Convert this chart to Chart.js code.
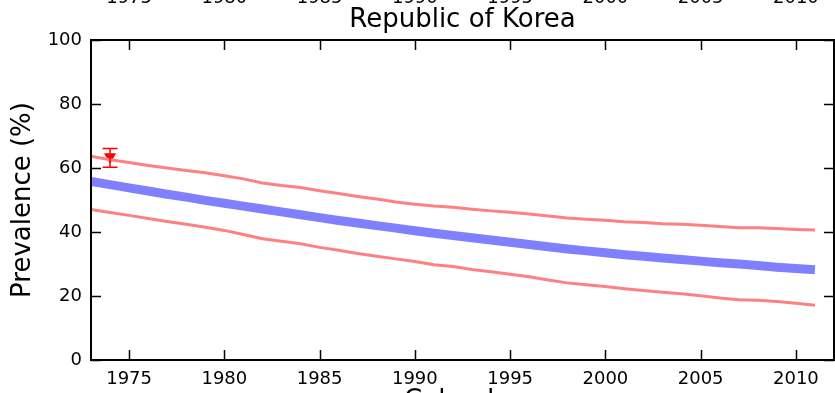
<!DOCTYPE html>
<html>
<head>
<meta charset="utf-8">
<script src="https://cdn.jsdelivr.net/npm/chart.js@4.4.1/dist/chart.umd.min.js"></script>
<style>
    html, body { margin: 0; padding: 0; background: #fff; }
    #wrap { width: 835px; height: 393px; position: relative; }
</style>
</head>
<body>
<div id="wrap"><canvas id="prevalence_chart" width="835" height="393"></canvas></div>
<script>

// years modelled, 1973 - 2011
const years = [
    1973, 1974, 1975, 1976, 1977, 1978, 1979, 1980, 1981, 1982,
    1983, 1984, 1985, 1986, 1987, 1988, 1989, 1990, 1991, 1992,
    1993, 1994, 1995, 1996, 1997, 1998, 1999, 2000, 2001, 2002,
    2003, 2004, 2005, 2006, 2007, 2008, 2009, 2010, 2011
];

// fitted prevalence (%)
const prevalence_fit = [
    55.8, 54.8, 53.8, 52.8, 51.8, 50.9, 49.9, 49.0, 48.1, 47.2,
    46.3, 45.4, 44.5, 43.6, 42.8, 42.0, 41.2, 40.4, 39.6, 38.9,
    38.2, 37.5, 36.8, 36.1, 35.4, 34.7, 34.1, 33.5, 32.9, 32.4,
    31.9, 31.4, 30.9, 30.4, 30.0, 29.5, 29.0, 28.6, 28.2
];

// upper and lower uncertainty bounds (%)
const prevalence_upper = [
    63.7, 62.6, 61.7, 60.8, 60.0, 59.2, 58.5, 57.6, 56.6, 55.3,
    54.5, 53.9, 52.9, 52.0, 51.1, 50.3, 49.4, 48.7, 48.1, 47.7,
    47.1, 46.6, 46.2, 45.6, 45.0, 44.4, 44.0, 43.7, 43.2, 43.0,
    42.6, 42.4, 42.1, 41.7, 41.3, 41.3, 41.1, 40.8, 40.6
];

const prevalence_lower = [
    47.0, 46.1, 45.2, 44.2, 43.3, 42.4, 41.5, 40.5, 39.2, 37.9,
    37.1, 36.3, 35.2, 34.3, 33.3, 32.4, 31.6, 30.8, 29.8, 29.2,
    28.3, 27.6, 26.8, 26.0, 25.0, 24.1, 23.5, 23.0, 22.3, 21.7,
    21.2, 20.7, 20.1, 19.4, 18.8, 18.7, 18.3, 17.7, 17.1
];

// survey observation with its interval
const survey_years = [1974];
const survey_values = [63.5];
const survey_low = [60.2];
const survey_high = [66.1];

const x_ticks = [1975, 1980, 1985, 1990, 1995, 2000, 2005, 2010];
const y_ticks = [0, 20, 40, 60, 80, 100];

const font_family = "'DejaVu Sans', sans-serif";


function toPoints(xs, ys){
    return xs.map((x, i) => ({ x: x, y: ys[i] }));
}


// error bars for the survey point
const errorBarPlugin = {
    id: 'errorBars',
    afterDatasetsDraw(chart){
        const ctx = chart.ctx;
        const xs = chart.scales.x;
        const ys = chart.scales.y;

        ctx.save();
        ctx.strokeStyle = '#ff0000';
        ctx.lineWidth = 1.5;

        survey_years.forEach((yr, i) => {
            const px = xs.getPixelForValue(yr);
            const top = ys.getPixelForValue(survey_high[i]);
            const bottom = ys.getPixelForValue(survey_low[i]);

            ctx.beginPath();
            ctx.moveTo(px, top);
            ctx.lineTo(px, bottom);
            ctx.moveTo(px - 7.5, top);
            ctx.lineTo(px + 7.5, top);
            ctx.moveTo(px - 7.5, bottom);
            ctx.lineTo(px + 7.5, bottom);
            ctx.stroke();
        });

        ctx.restore();
    }
};


// axes frame, inward ticks and the titles
const framePlugin = {
    id: 'frame',
    afterDraw(chart){
        const ctx = chart.ctx;
        const area = chart.chartArea;
        const xs = chart.scales.x;
        const ys = chart.scales.y;

        ctx.save();

        ctx.strokeStyle = '#000';
        ctx.lineWidth = 1.5;
        ctx.beginPath();
        x_ticks.forEach(t => {
            const px = Math.round(xs.getPixelForValue(t)) + 0.5;
            ctx.moveTo(px, area.bottom);
            ctx.lineTo(px, area.bottom - 10);
            ctx.moveTo(px, area.top);
            ctx.lineTo(px, area.top + 10);
        });
        y_ticks.forEach(t => {
            const py = Math.round(ys.getPixelForValue(t)) + 0.5;
            ctx.moveTo(area.left, py);
            ctx.lineTo(area.left + 10, py);
            ctx.moveTo(area.right, py);
            ctx.lineTo(area.right - 10, py);
        });
        ctx.stroke();

        ctx.lineWidth = 2;
        ctx.strokeRect(area.left, area.top, area.right - area.left, area.bottom - area.top);

        ctx.fillStyle = '#000';
        ctx.textAlign = 'center';
        ctx.textBaseline = 'alphabetic';

        // title
        ctx.font = '26px ' + font_family;
        ctx.fillText('Republic of Korea', (area.left + area.right) / 2, 27);

        // x axis label, mostly below the window
        ctx.fillText('Calendar', (area.left + area.right) / 2, 408);

        // tick labels of the panel above
        ctx.font = '18px ' + font_family;
        x_ticks.forEach(t => {
            ctx.fillText(String(t), xs.getPixelForValue(t), 2.5);
        });

        // y axis label
        ctx.translate(23, (area.top + area.bottom) / 2);
        ctx.rotate(-Math.PI / 2);
        ctx.font = '26px ' + font_family;
        ctx.textBaseline = 'middle';
        ctx.fillText('Prevalence (%)', 0, 0);

        ctx.restore();
    }
};


document.addEventListener("DOMContentLoaded", () => {

    new Chart(document.getElementById('prevalence_chart'), {

        type: 'line',
        data: {
            datasets: [
                {
                    data: toPoints(years, prevalence_upper),
                    borderColor: '#ff8080',
                    borderWidth: 3,
                    pointRadius: 0
                },
                {
                    data: toPoints(years, prevalence_lower),
                    borderColor: '#ff8080',
                    borderWidth: 3,
                    pointRadius: 0
                },
                {
                    data: toPoints(years, prevalence_fit),
                    borderColor: '#8080ff',
                    borderWidth: 9,
                    pointRadius: 0
                },
                {
                    data: toPoints(survey_years, survey_values),
                    showLine: false,
                    pointStyle: 'triangle',
                    rotation: 180,
                    pointRadius: 7,
                    backgroundColor: '#ff0000',
                    borderColor: '#ff0000',
                    borderWidth: 0
                }
            ]
        },
        options: {
            responsive: false,
            animation: false,
            layout: {
                autoPadding: false,
                padding: { top: 40, right: 1, left: 0, bottom: 0 }
            },
            plugins: {
                legend: { display: false },
                title: { display: false },
                tooltip: { enabled: false }
            },
            scales: {
                x: {
                    type: 'linear',
                    min: 1973,
                    max: 2012,
                    grid: { display: false, drawTicks: false },
                    border: { display: false },
                    afterBuildTicks: scale => { scale.ticks = x_ticks.map(v => ({ value: v })); },
                    afterFit: scale => {
                        scale.height = 33;
                        scale.paddingLeft = 0;
                        scale.paddingRight = 0;
                    },
                    ticks: {
                        color: '#000',
                        font: { family: font_family, size: 18 },
                        padding: 9,
                        maxRotation: 0,
                        callback: v => String(v)
                    }
                },
                y: {
                    min: 0,
                    max: 100,
                    grid: { display: false, drawTicks: false },
                    border: { display: false },
                    afterBuildTicks: scale => { scale.ticks = y_ticks.map(v => ({ value: v })); },
                    afterFit: scale => { scale.width = 91; },
                    ticks: {
                        color: '#000',
                        font: { family: font_family, size: 18 },
                        padding: 9,
                        callback: v => String(v)
                    }
                }
            }
        },
        plugins: [errorBarPlugin, framePlugin]

    });

});

</script>
</body>
</html>
